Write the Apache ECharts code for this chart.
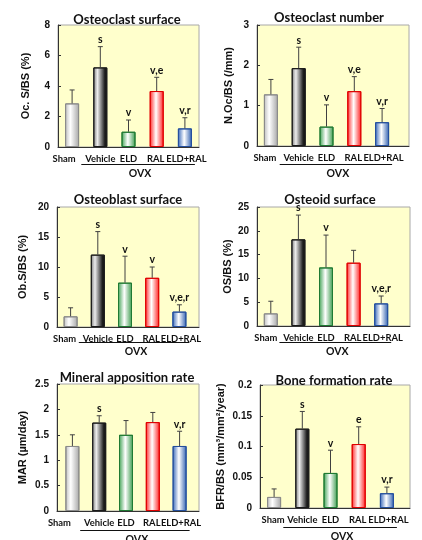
<!DOCTYPE html>
<html><head><meta charset="utf-8">
<script src="https://cdn.jsdelivr.net/npm/echarts@6/dist/echarts.min.js"></script>
<style>html,body{margin:0;padding:0;background:#fff}#c{width:422px;height:540px}</style>
</head><body><div id="c"></div>
<script>
// ---- data ----
const categories = ['Sham', 'Vehicle', 'ELD', 'RAL', 'ELD+RAL'];
const groupLabel = 'OVX';
const titles = ['Osteoclast surface', 'Osteoclast number', 'Osteoblast surface', 'Osteoid surface', 'Mineral apposition rate', 'Bone formation rate'];
const yNames = ['Oc. S/BS (%)', 'N.Oc/BS (/mm)', 'Ob.S/BS (%)', 'OS/BS (%)', 'MAR (µm/day)', 'BFR/BS (mm³/mm²/year)'];
const yMax = [8, 3, 20, 25, 2.5, 0.2];
const yInterval = [2, 1, 5, 5, 0.5, 0.05];

const ocsMean = [2.86, 5.22, 1.00, 3.67, 1.22];
const ocsErr  = [0.88, 1.36, 0.77, 0.90, 0.70];
const nocMean = [1.28, 1.93, 0.48, 1.36, 0.59];
const nocErr  = [0.37, 0.52, 0.54, 0.36, 0.34];
const obsMean = [1.78, 12.06, 7.39, 8.20, 2.56];
const obsErr  = [1.42, 3.84, 4.41, 1.80, 1.14];
const osMean  = [2.65, 18.2, 12.3, 13.3, 4.75];
const osErr   = [2.55, 5.10, 6.80, 2.60, 1.55];
const marMean = [1.28, 1.74, 1.50, 1.75, 1.28];
const marErr  = [0.22, 0.135, 0.28, 0.19, 0.29];
const bfrMean = [0.018, 0.129, 0.057, 0.104, 0.024];
const bfrErr  = [0.013, 0.028, 0.037, 0.028, 0.010];

const ocsSig = ['', 's', 'v', 'v,e', 'v,r'];
const nocSig = ['', 's', 'v', 'v,e', 'v,r'];
const obsSig = ['', 's', 'v', 'v', 'v,e,r'];
const osSig  = ['', 's', 'v', '', 'v,e,r'];
const marSig = ['', 's', '', '', 'v,r'];
const bfrSig = ['', 's', 'v', 'e', 'v,r'];

const means = [ocsMean, nocMean, obsMean, osMean, marMean, bfrMean];
const errs = [ocsErr, nocErr, obsErr, osErr, marErr, bfrErr];
const sigs = [ocsSig, nocSig, obsSig, osSig, marSig, bfrSig];

// ---- layout / style ----
const frames = [[58, 25, 141, 122], [257, 25, 152, 121], [57, 207, 142, 120], [257, 207, 153, 119], [57, 384, 142, 127], [260, 385, 150, 123]];
const bands = [[58, 141], [257, 139], [57, 136], [257, 138], [59, 134], [260, 141]];
const nameGaps = [27, 23, 29, 24, 29, 34];
const titlePos = [[122, 8], [324, 6], [123, 188], [325, 188], [122, 366], [329, 369]];
const ovxLineDy = [17, 18, 15, 16, 19, 19];
const shamShift = [8, 6, 6, 5, 13, 1];

const barStyles = [
  { border: '#8a8a8a', stops: [[0, '#bdbdbd'], [0.38, '#ffffff'], [1, '#a6a6a6']] },
  { border: '#1a1a1a', stops: [[0, '#7a7a7a'], [0.3, '#ececec'], [0.82, '#1e1e1e'], [1, '#111111']] },
  { border: '#1f7a33', stops: [[0, '#3ea152'], [0.45, '#ffffff'], [1, '#3a9a4c']] },
  { border: '#e00000', stops: [[0, '#ff2a2a'], [0.45, '#ffffff'], [1, '#ff2020']] },
  { border: '#244f9e', stops: [[0, '#3566b8'], [0.45, '#ffffff'], [1, '#3060b0']] }
];

const catFont = 'Lato';
const numFont = '"Liberation Sans", Arial, sans-serif';
const catSize = 9.4;

const chart = echarts.init(document.getElementById('c'), null, { renderer: 'canvas' });

const grid = [], xAxis = [], yAxis = [], series = [], title = [];
for (let i = 0; i < 6; i++) {
  const f = frames[i], b = bands[i];
  grid.push({ left: f[0], top: f[1], width: f[2], height: f[3], show: true, backgroundColor: '#ffffcc', borderColor: '#a8a8a8', borderWidth: 1 });
  grid.push({ left: b[0], top: f[1], width: b[1], height: f[3], show: false });
  xAxis.push({ type: 'category', gridIndex: 2 * i, data: [''], axisLine: { show: true, lineStyle: { color: '#333', width: 1 } }, axisTick: { show: false }, axisLabel: { show: false }, splitLine: { show: false } });
  const lab = { color: '#111', fontFamily: catFont, fontWeight: 'bold', fontSize: catSize };
  xAxis.push({ type: 'category', gridIndex: 2 * i + 1, data: categories, axisLine: { show: false }, axisTick: { show: false }, splitLine: { show: false },
    axisLabel: Object.assign({ interval: 0, margin: 7,
      formatter: (v, idx) => idx === 0 ? '{s|' + v + '}' : idx === 3 ? '{r|' + v + '}' : idx === 4 ? '{e|' + v + '}' : v,
      rich: {
        s: Object.assign({ padding: [0, shamShift[i] * 2, 0, 0] }, lab),
        r: Object.assign({ padding: [0, 2, 0, 0] }, lab),
        e: Object.assign({ padding: [0, 0, 0, 3] }, lab)
      } }, lab) });
  yAxis.push({ type: 'value', gridIndex: 2 * i, min: 0, max: yMax[i], interval: yInterval[i],
    axisLine: { show: true, lineStyle: { color: '#333', width: 1 } }, axisTick: { show: true, inside: true, length: 3, lineStyle: { color: '#333' } },
    splitLine: { show: false }, axisLabel: { color: '#111', fontFamily: numFont, fontWeight: 'bold', fontSize: 10, margin: 8 },
    name: yNames[i], nameLocation: 'middle', nameRotate: 90, nameGap: nameGaps[i],
    nameTextStyle: { color: '#111', fontFamily: numFont, fontWeight: 'bold', fontSize: 11 } });
  yAxis.push({ type: 'value', gridIndex: 2 * i + 1, min: 0, max: yMax[i], interval: yInterval[i], show: false });
  title.push({ text: titles[i], left: titlePos[i][0], top: titlePos[i][1], textAlign: 'center',
    textStyle: { fontFamily: catFont, fontWeight: 'bold', fontSize: 13, color: '#111' } });
  const m = means[i];
  series.push({ type: 'bar', xAxisIndex: 2 * i + 1, yAxisIndex: 2 * i + 1, barWidth: 14,
    data: m.map((v, k) => ({ value: v, itemStyle: {
      color: { type: 'linear', x: 0, y: 0, x2: 1, y2: 0, colorStops: barStyles[k].stops.map(s => ({ offset: s[0], color: s[1] })) },
      borderColor: barStyles[k].border, borderWidth: 1 } })) });
  const sg = sigs[i];
  series.push({ type: 'custom', xAxisIndex: 2 * i + 1, yAxisIndex: 2 * i + 1, z: 3,
    data: m.map((v, k) => [k, v, errs[i][k]]),
    renderItem: function (params, api) {
      const x = api.value(0), y = api.value(1), e = api.value(2);
      const p0 = api.coord([x, y]), p1 = api.coord([x, y + e]);
      const st = { stroke: '#404040', lineWidth: 1 };
      const ch = [
        { type: 'line', shape: { x1: p0[0], y1: p0[1], x2: p1[0], y2: p1[1] }, style: st },
        { type: 'line', shape: { x1: p1[0] - 2.5, y1: p1[1], x2: p1[0] + 2.5, y2: p1[1] }, style: st }
      ];
      const t = sg[params.dataIndex];
      if (t) ch.push({ type: 'text', style: { text: t, x: p1[0], y: p1[1] - 1.5, align: 'center', verticalAlign: 'bottom',
        fill: '#111', font: 'bold 10.5px Lato' } });
      return { type: 'group', children: ch };
    } });
}

chart.setOption({ animation: false, title, grid, xAxis, yAxis, series });

// OVX group bracket under Vehicle..ELD+RAL
const graphic = [];
for (let i = 0; i < 6; i++) {
  const xa = chart.convertToPixel({ xAxisIndex: 2 * i + 1 }, categories[1]);
  const xb = chart.convertToPixel({ xAxisIndex: 2 * i + 1 }, categories[4]);
  const yb = frames[i][1] + frames[i][3] + ovxLineDy[i];
  const x1 = xa - 19, x2 = xb + 10;
  graphic.push({ type: 'line', shape: { x1, y1: yb + 0.5, x2, y2: yb + 0.5 }, style: { stroke: '#111', lineWidth: 1 } });
  graphic.push({ type: 'text', x: (x1 + x2) / 2 + 2, y: yb + 10, style: { text: groupLabel, align: 'center', verticalAlign: 'middle', fill: '#111', font: 'bold 10.5px Lato' } });
}
chart.setOption({ graphic });
</script></body></html>
